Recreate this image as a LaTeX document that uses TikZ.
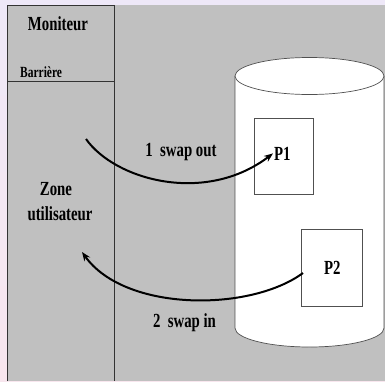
\documentclass[tikz,border=0pt]{standalone}
\usepackage{fontspec}
\usetikzlibrary{arrows.meta}
\newfontfamily\slidefont[FakeStretch=0.74]{Liberation Serif}
\definecolor{panel}{HTML}{C0C0C0}
\definecolor{edge}{HTML}{505050}
\definecolor{bgtop}{HTML}{EEE8F8}
\definecolor{bgbot}{HTML}{F8E6EE}
\tikzset{
  lbl/.style={font=\slidefont\bfseries\fontsize{20}{22}\selectfont, inner sep=0pt, anchor=base},
  small/.style={font=\slidefont\bfseries\fontsize{15.5}{17}\selectfont, inner sep=0pt, anchor=base west},
  page/.style={draw=edge, line width=0.6pt, fill=white},
  swap/.style={line width=2pt, -{Stealth[length=9pt,width=7pt]}},
  frame/.style={draw=black!80, line width=0.8pt}
}
\begin{document}
\begin{tikzpicture}[x=1pt,y=-1pt]
  % background and grey panel
  \shade[top color=bgtop, bottom color=bgbot] (0,0) rectangle (385,381);
  \useasboundingbox (0,0) rectangle (385,381);
  \fill[panel] (7,5) rectangle (385,381);

  % memory column: monitor part and user zone
  \draw[frame] (7,381) -- (7,5) -- (114,5) -- (114,381);
  \draw[frame] (7,81) -- (114,81);
  \node[lbl] (mon) at (58,30) {Moniteur};
  \node[small] (bar) at (20,77) {Barrière};
  \node[lbl] (zone) at (56,195) {Zone};
  \node[lbl] (user) at (60,220) {utilisateur};

  % disk drawn as a cylinder
  \fill[white] (235,76) -- (235,328) arc[start angle=180,end angle=360,x radius=74.5pt,y radius=19pt] -- (384,76) -- cycle;
  \draw[edge, line width=0.7pt] (235,76) -- (235,328) arc[start angle=180,end angle=360,x radius=74.5pt,y radius=19pt] -- (384,76);
  \draw[edge, line width=0.7pt, fill=white] (309.5,76) ellipse [x radius=74.5pt, y radius=18.5pt];

  % swapped pages on the disk
  \draw[page] (254,118) rectangle (313,194);
  \draw[page] (301,229) rectangle (362,306);
  \node[lbl, anchor=base west, inner sep=1pt] (p1) at (273,160) {P1};
  \node[lbl, anchor=base west, inner sep=1pt] (p2) at (323,274) {P2};

  % swap transfers
  \coordinate (out0) at (86,139);
  \coordinate (in1) at (82,252);
  \coordinate (in0) at (303,273);
  \draw[swap] (out0) .. controls (115,180) and (205,205) .. (p1.west);
  \draw[swap] (in0) .. controls (250,312) and (125,312) .. (in1);
  \node[lbl] (lout) at (181,156) {1~~swap out};
  \node[lbl] (lin) at (184.5,327) {2~~swap in};
\end{tikzpicture}
\end{document}
